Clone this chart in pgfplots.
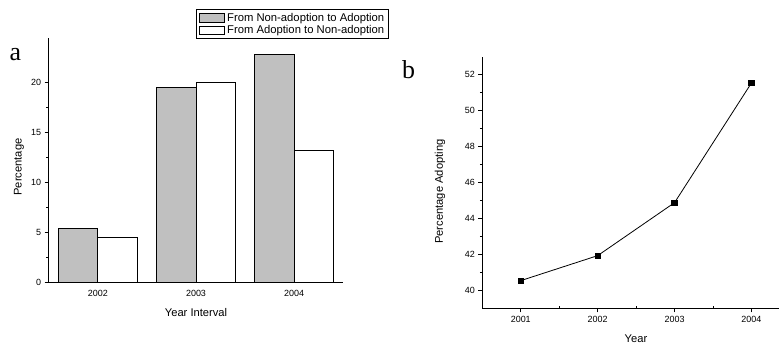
\documentclass[border=0pt]{standalone}
\usepackage{fontspec}
\setmainfont{Liberation Sans}
\newfontfamily\serifpanel{Liberation Serif}
\usepackage{pgfplots}
\pgfplotsset{compat=1.18}
\definecolor{bargray}{HTML}{C0C0C0}
\begin{document}
\begin{tikzpicture}[x=1bp,y=1bp]
\useasboundingbox (0,0) rectangle (779,346);
% panel labels
\node[anchor=base west, inner sep=0pt, font=\serifpanel\fontsize{26}{26}\selectfont] at (9.5,286) {a};
\node[anchor=base west, inner sep=0pt, font=\serifpanel\fontsize{26}{26}\selectfont] at (402,268) {b};
% panel a
\begin{axis}[
  at={(48.7bp,63.3bp)}, anchor=origin,
  scale only axis, width=294.6bp, height=245bp,
  axis x line*=bottom, axis y line*=left,
  axis line style={line width=0.9bp},
  xmin=0.5, xmax=3.5, ymin=0, ymax=24.5,
  xtick={1,2,3}, xticklabels={2002,2003,2004},
  major x tick style={draw=none},
  extra x ticks={0.5,1.5,2.5,3.5}, extra x tick labels={},
  extra x tick style={major tick length=4bp, tick style={line width=0.8bp,black}},
  ytick={0,5,10,15,20}, minor y tick num=1,
  tick align=outside, major tick length=4bp, minor tick length=2.5bp,
  tick style={line width=0.8bp, black},
  /pgf/number format/assume math mode=true,
  ticklabel style={font=\fontsize{9}{10}\selectfont},
  xlabel={Year Interval}, ylabel={Percentage},
  label style={font=\fontsize{11.2}{12}\selectfont},
  x label style={at={(axis description cs:0.5,-0.1224)}, anchor=center},
  y label style={at={(axis description cs:-0.1008,0.472)}, anchor=center},
  ybar, bar width=39.3bp,
  legend style={at={(axis description cs:0.501,1.117)}, anchor=north west,
    draw=black, line width=0.8bp, inner xsep=2bp, inner ysep=1.5bp, row sep=-1bp,
    font=\fontsize{11.3}{12}\selectfont, legend cell align=left},
  legend image code/.code={\draw[#1, line width=0.8bp] (0bp,-4.2bp) rectangle (25.7bp,4.2bp);},
]
\addplot[fill=bargray, draw=black, line width=0.9bp, bar shift=-19.65bp] coordinates {(1,5.4) (2,19.5) (3,22.8)};
\addlegendentry{From Non-adoption to Adoption}
\addplot[fill=white, draw=black, line width=0.9bp, bar shift=19.65bp] coordinates {(1,4.5) (2,20.0) (3,13.2)};
\addlegendentry{From Adoption to Non-adoption}
\end{axis}
% panel b
\begin{axis}[
  at={(482.3bp,37.7bp)}, anchor=origin,
  scale only axis, width=307.6bp, height=251.6bp,
  axis x line*=bottom, axis y line*=left,
  axis line style={line width=0.9bp},
  xmin=2000.5, xmax=2004.5, ymin=39, ymax=53,
  xtick={2001,2002,2003,2004}, minor x tick num=1,
  ytick={40,42,...,52}, minor y tick num=1,
  tick align=outside, major tick length=4bp, minor tick length=2.5bp,
  tick style={line width=0.8bp, black},
  minor x tick style={yshift=2.5bp},
  /pgf/number format/1000 sep={},
  /pgf/number format/assume math mode=true,
  ticklabel style={font=\fontsize{9}{10}\selectfont},
  xlabel={Year}, ylabel={Percentage Adopting},
  label style={font=\fontsize{11.2}{12}\selectfont},
  x label style={at={(axis description cs:0.4997,-0.122)}, anchor=center},
  y label style={at={(axis description cs:-0.1375,0.464)}, anchor=center},
]
\addplot[black, line width=0.8bp, mark=square*, mark size=2.7bp] coordinates {(2001,40.54) (2002,41.93) (2003,44.88) (2004,51.54)};
\end{axis}
\end{tikzpicture}
\end{document}
